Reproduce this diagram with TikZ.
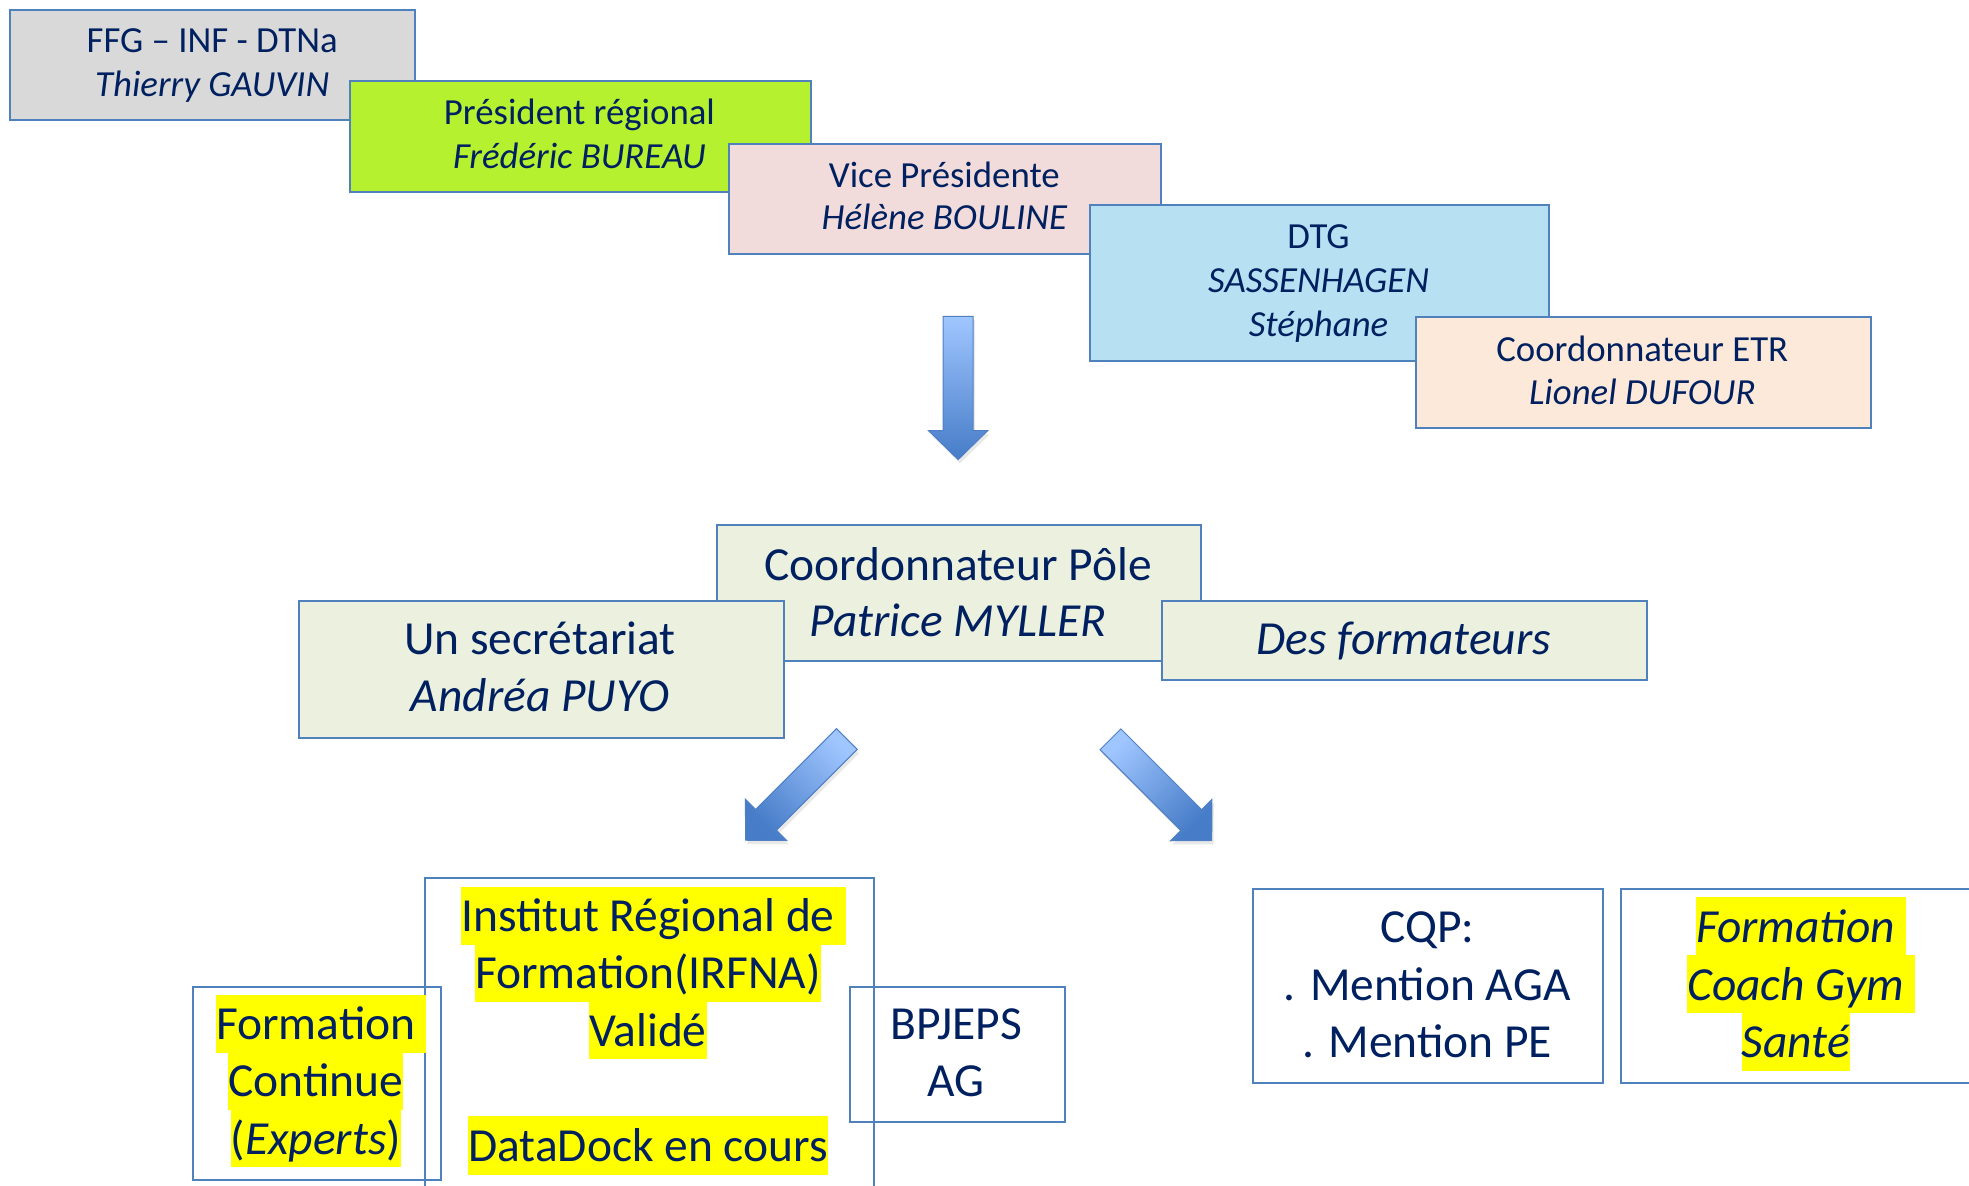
\documentclass[tikz,border=0pt]{standalone}
\usepackage{fontspec}
\setmainfont{Carlito}
\usetikzlibrary{shadows}
\definecolor{ink}{RGB}{0,32,96}
\definecolor{edge}{RGB}{79,129,189}
\definecolor{cgray}{RGB}{217,217,217}
\definecolor{cgreen}{RGB}{181,241,47}
\definecolor{cpink}{RGB}{242,220,219}
\definecolor{cblue}{RGB}{183,225,243}
\definecolor{cpeach}{RGB}{253,233,217}
\definecolor{cmid}{RGB}{235,241,222}
\definecolor{hl}{RGB}{255,255,0}
\definecolor{arrlight}{RGB}{160,198,255}
\definecolor{arrdark}{RGB}{70,124,200}
\definecolor{arredge}{RGB}{80,128,195}
\tikzset{
  box/.style={draw=edge, line width=1.6pt, inner sep=0pt, anchor=north west},
  small/.style={text=ink, inner sep=0pt, anchor=base, font=\fontsize{29.3}{35}\selectfont},
  big/.style={text=ink, inner sep=0pt, anchor=base, font=\fontsize{37.8}{46}\selectfont},
  hlt/.style={big, fill=hl, inner xsep=0pt, inner ysep=0pt, text height=36pt, text depth=10.5pt},
  blockarrow/.style={draw=arredge, line width=0.8pt, top color=arrlight, bottom color=arrdark,
     drop shadow={opacity=0.18, shadow xshift=1.5pt, shadow yshift=-3pt}}
}
\begin{document}
\begin{tikzpicture}[x=1pt, y=-1pt]
\useasboundingbox (0,0) rectangle (1568,944);

% ---- top cascade ----
\node[box, fill=cgray, minimum width=322.5pt, minimum height=87.9pt] (ffg) at (7.5,6.9) {};
\node[small] (ffg1) at (169,42) {FFG – INF - DTNa};
\node[small] (ffg2) at (169,77) {\itshape Thierry GAUVIN};

\node[box, fill=cgreen, minimum width=366.7pt, minimum height=88.1pt] (pres) at (278,63.7) {};
\node[small] (pres1) at (461.4,99.5) {Président régional};
\node[small] (pres2) at (461.4,134) {\itshape Frédéric BUREAU};

\node[box, fill=cpink, minimum width=344pt, minimum height=88.1pt] (vice) at (580,113.6) {};
\node[small] (vice1) at (752,149) {Vice Présidente};
\node[small] (vice2) at (752,183) {\itshape Hélène BOULINE};

\node[box, fill=cblue, minimum width=366pt, minimum height=124.2pt] (dtg) at (867,162.5) {};
\node[small] (dtg1) at (1050,198) {DTG};
\node[small] (dtg2) at (1050,233.3) {\itshape SASSENHAGEN};
\node[small] (dtg3) at (1050,268.3) {\itshape Stéphane};

\node[box, fill=cpeach, minimum width=362.5pt, minimum height=87.8pt] (etr) at (1126.5,252) {};
\node[small] (etr1) at (1307.8,287.5) {Coordonnateur ETR};
\node[small] (etr2) at (1307.8,322.5) {\itshape Lionel DUFOUR};

% ---- down arrow ----
\coordinate (a0) at (763,252);
\begin{scope}[shift={(a0)}]
  \path[blockarrow] (-12,0) -- (12,0) -- (12,91) -- (23.5,91) -- (0,114) -- (-23.5,91) -- (-12,91) -- cycle;
\end{scope}

% ---- middle ----
\node[box, fill=cmid, minimum width=385.5pt, minimum height=108.3pt] (pole) at (570,417.3) {};
\node[big] (pole1) at (762.8,461.9) {Coordonnateur Pôle};
\node[big] (pole2) at (762.8,507) {\itshape Patrice MYLLER};

\node[box, fill=cmid, minimum width=386.3pt, minimum height=108.9pt] (secr) at (237,477.8) {};
\node[big] (secr1) at (430,521.6) {Un secrétariat};
\node[big] (secr2) at (430,566.8) {\itshape Andréa PUYO};

\node[box, fill=cmid, minimum width=386.2pt, minimum height=62.9pt] (form) at (924.6,477.8) {};
\node[big] (form1) at (1117.7,521.6) {\itshape Des formateurs};

% ---- diagonal arrows ----
\coordinate (aL) at (674.4,588.5);
\begin{scope}[shift={(aL)}, rotate=-45]
  \path[blockarrow, shading angle=-45] (-11.7,0) -- (11.7,0) -- (11.7,91) -- (23.3,91) -- (0,114) -- (-23.3,91) -- (-11.7,91) -- cycle;
\end{scope}
\coordinate (aR) at (884.3,588.7);
\begin{scope}[shift={(aR)}, rotate=45]
  \path[blockarrow, shading angle=45] (-11.7,0) -- (11.7,0) -- (11.7,91) -- (23.3,91) -- (0,114) -- (-23.3,91) -- (-11.7,91) -- cycle;
\end{scope}

% ---- bottom left group ----
\node[box, minimum width=357.4pt, minimum height=260pt] (irfna) at (337.6,698) {};
\node[hlt, xshift=4.3pt] (ir1) at (516,742) {Institut Régional de\kern8.6pt};
\node[hlt] (ir2) at (516,787.5) {Formation(IRFNA)};
\node[hlt] (ir3) at (516,833) {Validé};
\node[hlt] (ir4) at (516,925) {DataDock en cours};

\node[box, minimum width=197pt, minimum height=154pt] (fc) at (153,785) {};
\node[hlt, xshift=4.3pt] (fc1) at (251.5,828) {Formation\kern8.6pt};
\node[hlt] (fc2) at (251.5,873.5) {Continue};
\node[hlt] (fc3) at (251.5,919) {(\textit{Experts})};

\node[box, minimum width=171pt, minimum height=108pt] (bp) at (676,785) {};
\node[big] (bp1) at (761.5,828) {BPJEPS};
\node[big] (bp2) at (761.5,873.5) {AG};

% ---- bottom right group ----
\node[box, minimum width=279pt, minimum height=155pt] (cqp) at (997,707) {};
\node[big] (cqp1) at (1136.5,750.7) {CQP:};
\node[big] (cqp2) at (1136.5,796.4) {. Mention AGA};
\node[big] (cqp3) at (1136.5,842) {. Mention PE};

\node[box, minimum width=285pt, minimum height=155pt] (coach) at (1290,707) {};
\node[hlt, xshift=4.3pt] (co1) at (1430,750.7) {\itshape Formation\kern8.6pt};
\node[hlt, xshift=4.3pt] (co2) at (1430,796.4) {\itshape Coach Gym\kern8.6pt};
\node[hlt] (co3) at (1430,842) {\itshape Santé};
\end{tikzpicture}
\end{document}
